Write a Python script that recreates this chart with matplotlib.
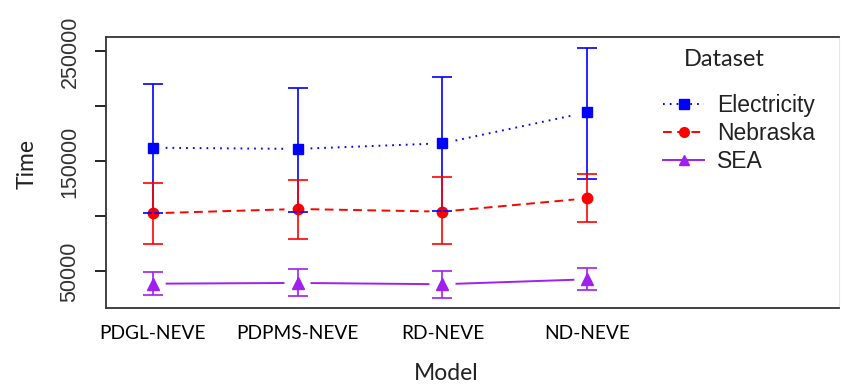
import numpy as np
import matplotlib
matplotlib.use('Agg')
import matplotlib.pyplot as plt
from matplotlib.lines import Line2D

# data
models = ['PDGL-NEVE', 'PDPMS-NEVE', 'RD-NEVE', 'ND-NEVE']
datasets = ['Electricity', 'Nebraska', 'SEA']

elec_mean = [162500, 161400, 166500, 194700]
elec_low = [102900, 104400, 105300, 134100]
elec_high = [220700, 216500, 227100, 253200]

nebr_mean = [102900, 106800, 104400, 116500]
nebr_low = [74700, 79800, 74700, 95000]
nebr_high = [130200, 132900, 135600, 138400]

sea_mean = [38900, 39600, 38400, 42900]
sea_low = [28600, 27500, 26200, 33200]
sea_high = [49300, 52000, 50700, 53200]

series = [
    (elec_mean, elec_low, elec_high, '#0000FF', (0, (0.9, 2.6)), 's', 7),
    (nebr_mean, nebr_low, nebr_high, '#FF0000', (0, (4.5, 2.8)), 'o', 7.5),
    (sea_mean, sea_low, sea_high, '#A020F0', '-', '^', 8),
]

fig = plt.figure(figsize=(8.44, 3.87), dpi=100)
ax = fig.add_axes([0.1252, 0.2041, 0.994 - 0.1252, 0.9052 - 0.2041])

x = np.arange(1, len(models) + 1)
gap = 0.09  # R type="b" leaves a gap around each point

handles = []
for mean, low, high, col, ls, mk, ms in series:
    mean = np.array(mean, dtype=float)
    # connecting segments, shortened at both ends
    for i in range(len(x) - 1):
        x0, x1 = x[i] + gap, x[i + 1] - gap
        y0 = np.interp(x0, x, mean)
        y1 = np.interp(x1, x, mean)
        ax.plot([x0, x1], [y0, y1], color=col, lw=1.4, linestyle=ls,
                solid_capstyle='butt', dash_capstyle='butt', zorder=2)
    ax.plot(x, mean, linestyle='none', marker=mk, ms=ms, color=col, zorder=3)
    err = [mean - np.array(low), np.array(high) - mean]
    ax.errorbar(x, mean, yerr=err, fmt='none', ecolor=col, elinewidth=1.2,
                capsize=7, capthick=1.2, zorder=4)
    handles.append(Line2D([], [], color=col, lw=1.4, linestyle=ls,
                          marker=mk, ms=ms - 0.5))

ax.set_xlim(0.676, 5.736)
ax.set_ylim(16800, 263400)

ax.set_xticks(x)
ax.set_xticklabels(models, fontsize=13.8, family='Lato')
ax.tick_params(axis='x', length=0, pad=12)

ax.set_yticks([50000, 100000, 150000, 200000, 250000])
ax.set_yticklabels(['50000', '', '150000', '', '250000'], rotation=90,
                   va='center', fontsize=15.5, family='Liberation Sans',
                   color='#333333')
ax.tick_params(axis='y', length=8, width=1.2, pad=10)

for s in ['left', 'bottom', 'top']:
    ax.spines[s].set_linewidth(1.3)
    ax.spines[s].set_color('#333333')
ax.spines['right'].set_color('#e6e6e6')
ax.spines['right'].set_linewidth(0.8)

fig.text(27 / 844, 1 - 164 / 387, 'Time', rotation=90, ha='center',
         va='center', fontsize=16.5, family='Lato', color='#222222')
fig.text(446 / 844, 1 - 374 / 387, 'Model', ha='center', va='center',
         fontsize=16.5, family='Lato', color='#222222')

# legend title placed on its own, R leaves a wide gap under it
fig.text(724 / 844, 1 - 60 / 387, 'Dataset', ha='center', va='center',
         fontsize=17, family='Lato', color='#222222')
leg = fig.legend(handles, datasets, loc='upper left',
                 bbox_to_anchor=(652 / 844, 1 - 83 / 387), frameon=False,
                 handlelength=1.75, handletextpad=0.6,
                 labelspacing=0.2, borderpad=0,
                 prop={'family': 'Liberation Sans', 'size': 16.5})
for t in leg.get_texts():
    t.set_color('#222222')

plt.savefig('out.png', dpi=100)
